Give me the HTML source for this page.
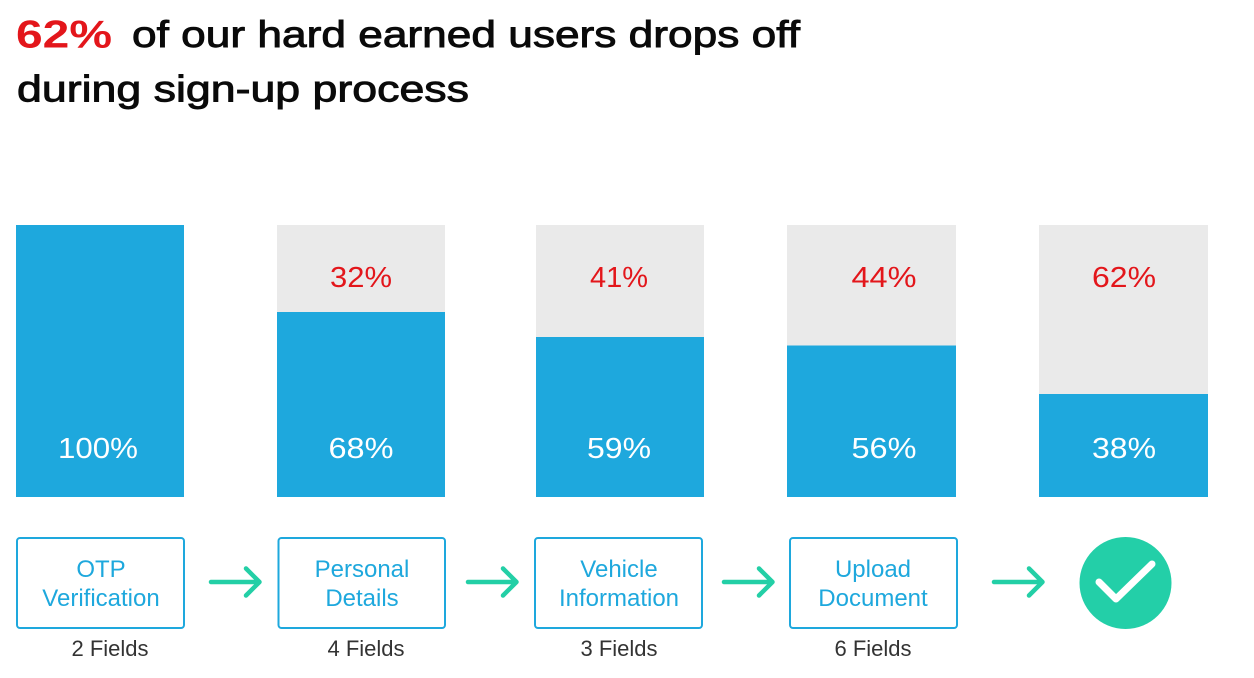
<!DOCTYPE html>
<html>
<head>
<meta charset="utf-8">
<style>
  html, body { margin: 0; padding: 0; background: #ffffff; }
  body { width: 1254px; height: 678px; overflow: hidden; }
  svg { display: block; }
  text { font-family: "Liberation Sans", "DejaVu Sans", sans-serif; }
</style>
</head>
<body>
<svg width="1254" height="678" viewBox="0 0 1254 678" xmlns="http://www.w3.org/2000/svg">
  <rect x="0" y="0" width="1254" height="678" fill="#ffffff"/>

  <!-- Title -->
  <text x="16" y="47.5" font-size="39" font-weight="bold" fill="#e3161b" textLength="96" lengthAdjust="spacingAndGlyphs">62%</text>
  <text x="132" y="47" font-size="37" fill="#0a0a0a" stroke="#0a0a0a" stroke-width="0.9" textLength="668" lengthAdjust="spacingAndGlyphs">of our hard earned users drops off</text>
  <text x="17" y="101.5" font-size="37" fill="#0a0a0a" stroke="#0a0a0a" stroke-width="0.9" textLength="452" lengthAdjust="spacingAndGlyphs">during sign-up process</text>

  <!-- Bars: gray backgrounds -->
  <rect x="277" y="225" width="168" height="272" fill="#eaeaea"/>
  <rect x="536" y="225" width="168" height="272" fill="#eaeaea"/>
  <rect x="787" y="225" width="169" height="272" fill="#eaeaea"/>
  <rect x="1039" y="225" width="169" height="272" fill="#eaeaea"/>

  <!-- Bars: blue -->
  <rect x="16" y="225" width="168" height="272" fill="#1ea8dd"/>
  <rect x="277" y="312" width="168" height="185" fill="#1ea8dd"/>
  <rect x="536" y="337" width="168" height="160" fill="#1ea8dd"/>
  <rect x="787" y="345.5" width="169" height="151.5" fill="#1ea8dd"/>
  <rect x="1039" y="394" width="169" height="103" fill="#1ea8dd"/>

  <!-- Red drop-off labels -->
  <g font-size="28.5" fill="#e3161b" text-anchor="middle">
    <text x="361" y="287" textLength="62" lengthAdjust="spacingAndGlyphs">32%</text>
    <text x="619" y="287" textLength="58" lengthAdjust="spacingAndGlyphs">41%</text>
    <text x="884" y="287" textLength="65" lengthAdjust="spacingAndGlyphs">44%</text>
    <text x="1124" y="287" textLength="64" lengthAdjust="spacingAndGlyphs">62%</text>
  </g>

  <!-- White retention labels -->
  <g font-size="28.5" fill="#ffffff" text-anchor="middle">
    <text x="98" y="458" textLength="80" lengthAdjust="spacingAndGlyphs">100%</text>
    <text x="361" y="458" textLength="65" lengthAdjust="spacingAndGlyphs">68%</text>
    <text x="619" y="458" textLength="64" lengthAdjust="spacingAndGlyphs">59%</text>
    <text x="884" y="458" textLength="65" lengthAdjust="spacingAndGlyphs">56%</text>
    <text x="1124" y="458" textLength="64" lengthAdjust="spacingAndGlyphs">38%</text>
  </g>

  <!-- Step boxes -->
  <g fill="none" stroke="#1ea8dd" stroke-width="2">
    <rect x="17" y="538" width="167" height="90" rx="3"/>
    <rect x="278.5" y="538" width="166.5" height="90" rx="3"/>
    <rect x="535" y="538" width="167" height="90" rx="3"/>
    <rect x="790" y="538" width="167" height="90" rx="3"/>
  </g>

  <g font-size="24" fill="#1ea8dd" text-anchor="middle">
    <text x="101" y="577">OTP</text>
    <text x="101" y="606">Verification</text>
    <text x="362" y="577">Personal</text>
    <text x="362" y="606">Details</text>
    <text x="619" y="577">Vehicle</text>
    <text x="619" y="606">Information</text>
    <text x="873" y="577">Upload</text>
    <text x="873" y="606">Document</text>
  </g>

  <!-- Field counts -->
  <g font-size="22" fill="#333333" text-anchor="middle">
    <text x="110" y="656">2 Fields</text>
    <text x="366" y="656">4 Fields</text>
    <text x="619" y="656">3 Fields</text>
    <text x="873" y="656">6 Fields</text>
  </g>

  <!-- Arrows -->
  <g fill="none" stroke="#23cfa6" stroke-width="4.5" stroke-linecap="round" stroke-linejoin="round">
    <path d="M211 582 H259 M246 568.5 L259.5 582 L246 595.5"/>
    <path d="M468 582 H516 M503 568.5 L516.5 582 L503 595.5"/>
    <path d="M724 582 H772 M759 568.5 L772.5 582 L759 595.5"/>
    <path d="M994 582 H1042 M1029 568.5 L1042.5 582 L1029 595.5"/>
  </g>

  <!-- Completion check -->
  <circle cx="1125.5" cy="583" r="46" fill="#23cfa8"/>
  <path d="M1099 582 L1116 599 L1152 564" fill="none" stroke="#ffffff" stroke-width="7" stroke-linecap="round" stroke-linejoin="round"/>
</svg>
</body>
</html>
